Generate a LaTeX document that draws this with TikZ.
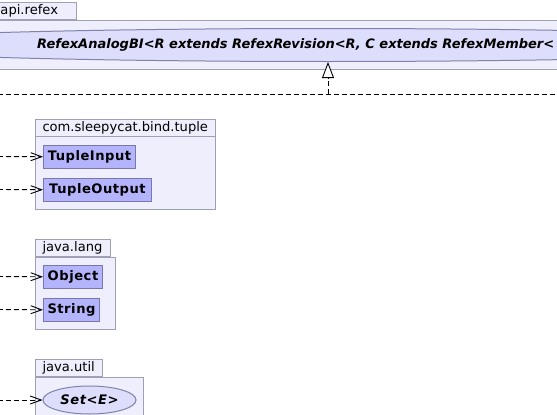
\documentclass[tikz,border=0pt]{standalone}
\usepackage{fontspec}
\setmainfont{DejaVu Sans}
\usepackage{tikz}
\usetikzlibrary{arrows.meta, shapes.geometric}
\definecolor{pkgfill}{RGB}{238,238,252}
\definecolor{pkgline}{RGB}{160,160,180}
\definecolor{clsfill}{RGB}{180,180,252}
\definecolor{clsline}{RGB}{120,120,170}
\definecolor{ifcfill}{RGB}{221,221,252}
\definecolor{ifcline}{RGB}{130,130,170}
\tikzset{
x=1pt, y=-1pt, % one unit is one pixel, y grows downwards
font=\fontsize{13.1}{15}\selectfont,
pkgtab/.style={draw=pkgline, fill=pkgfill, line width=1pt, anchor=north west,
  inner xsep=7pt, inner ysep=0pt, minimum height=17pt, align=left}, % tab with the package name
pkgbody/.style={draw=pkgline, fill=pkgfill, line width=1pt, anchor=north west, inner sep=0pt},
classbox/.style={draw=clsline, fill=clsfill, line width=1pt, anchor=north west,
  inner sep=0pt, minimum height=23pt,
  font=\fontsize{13.1}{15}\selectfont\bfseries\addfontfeature{LetterSpace=4}},
ifcbox/.style={ellipse, draw=ifcline, fill=ifcfill, line width=1pt, inner sep=0pt,
  font=\fontsize{13.1}{15}\selectfont\bfseries\itshape\addfontfeature{LetterSpace=4}},
dep/.style={draw=black, line width=0.9pt, dash pattern=on 5pt off 3pt,
  -{Straight Barb[length=11pt, width=8pt]}}, % uses
realize/.style={draw=black, line width=0.9pt, dash pattern=on 5pt off 3pt}, % implements
}

\begin{document}
\begin{tikzpicture}
    \useasboundingbox (0,0) rectangle (557,415);
    \clip (0,0) rectangle (557,415);

    % package api.refex, runs past the right edge
    \node[pkgtab, text width=69pt] (refextab) at (-7,2) {api.refex};
    \node[pkgbody, minimum width=600pt, minimum height=49pt] (refexpkg) at (-20,20) {};
    \node[ifcbox, minimum width=1000pt, minimum height=33pt] (analog) at (328,45) {};
    \node[anchor=west, inner sep=0pt, font=\fontsize{13}{15}\selectfont\bfseries\itshape]
        (analoglabel) at (37,45) {RefexAnalogBI<R extends RefexRevision<R, C extends RefexMember<};

    % package com.sleepycat.bind.tuple
    \node[pkgtab, text width=166pt] (tupletab) at (35,119) {com.sleepycat.bind.tuple};
    \node[pkgbody, minimum width=180pt, minimum height=73pt] (tuplepkg) at (35,136) {};
    \node[classbox, minimum width=92pt] (tin) at (43,145) {TupleInput};
    \node[classbox, minimum width=108pt] (tout) at (43,178) {TupleOutput};

    % package java.lang
    \node[pkgtab, text width=61pt] (langtab) at (35,239) {java.lang};
    \node[pkgbody, minimum width=80pt, minimum height=72pt] (langpkg) at (35,257) {};
    \node[classbox, minimum width=59pt] (obj) at (43,265) {Object};
    \node[classbox, minimum width=56pt] (str) at (43,298) {String};

    % package java.util
    \node[pkgtab, text width=53pt] (utiltab) at (35,359) {java.util};
    \node[pkgbody, minimum width=108pt, minimum height=60pt] (utilpkg) at (35,377) {};
    \node[ifcbox, minimum width=93pt, minimum height=28pt] (set) at (89.5,400) {Set<E>};

    % loose ends coming in from the left
    \coordinate (fromtin) at (-2,156.5);
    \coordinate (fromtout) at (-2,189.5);
    \coordinate (fromobj) at (-2,276.5);
    \coordinate (fromstr) at (-2,309.5);
    \coordinate (fromset) at (-2,400);
    \coordinate (busL) at (-2,94);
    \coordinate (busR) at (560,94);
    \coordinate (busJ) at (328,94);

    \draw[dep] (fromtin) -- (tin);
    \draw[dep] (fromtout) -- (tout);
    \draw[dep] (fromobj) -- (obj);
    \draw[dep] (fromstr) -- (str);
    \draw[dep] (fromset) -- (set);

    \draw[realize] (busL) -- (busR);
    \draw[realize, -{Triangle[length=16pt, width=12pt, fill=white, line width=0.9pt]}]
        (busJ) -- (analog);
\end{tikzpicture}
\end{document}
